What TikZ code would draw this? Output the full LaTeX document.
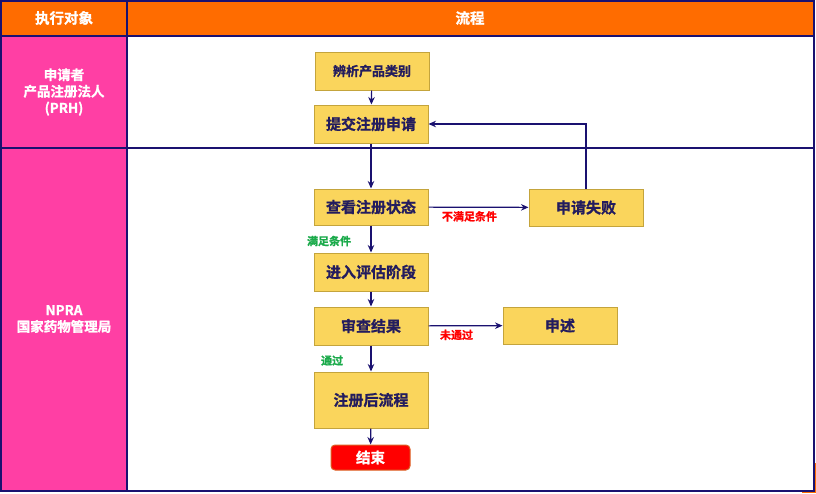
\documentclass[tikz,border=0pt]{standalone}
\usepackage{fontspec}
\setmainfont{Noto Sans CJK SC}[BoldFont={Noto Sans CJK SC Bold}, BoldFeatures={FakeBold=1.2}]
\usetikzlibrary{arrows.meta}
\definecolor{lanepink}{HTML}{FF3FA4}
\definecolor{headorange}{HTML}{FF6C00}
\definecolor{boxyellow}{HTML}{FAD55C}
\definecolor{boxedge}{HTML}{C4A43C}
\definecolor{navy}{HTML}{1A1170}
\definecolor{textnavy}{HTML}{231C5E}
\definecolor{okgreen}{HTML}{1AAA4A}
\tikzset{
  stepbox/.style={draw=boxedge, fill=boxyellow, line width=1pt, minimum width=114pt,
    minimum height=38pt, inner sep=0pt, text=textnavy, font=\fontsize{15}{17}\selectfont\bfseries},
  endbox/.style={draw=boxedge!60!red, fill=red, line width=1pt, rounded corners=4pt,
    minimum width=79pt, minimum height=25pt, inner sep=0pt, text=white, font=\fontsize{14.5}{16}\selectfont\bfseries},
  lanetext/.style={text=white, align=center, font=\fontsize{13.5}{16.5}\selectfont\bfseries},
  flow/.style={draw=navy, line width=1.2pt, -{Stealth[length=7.5pt,width=6.5pt]}},
  failnote/.style={text=red, font=\fontsize{11}{12}\selectfont\bfseries},
  passnote/.style={text=okgreen, font=\fontsize{11}{12}\selectfont\bfseries},
}
\begin{document}
\begin{tikzpicture}[x=1pt, y=-1pt]
\useasboundingbox (0,0) rectangle (816,493);
% table
\fill[headorange] (802,463) rectangle (816,493);
\fill[white] (1,1) rectangle (814,491);
\fill[headorange] (1,1) rectangle (814,36);
\fill[lanepink] (1,36) rectangle (127,491);
\draw[navy, line width=1.2pt] (1,1) rectangle (814,491);
\draw[navy, line width=1.2pt] (1,36) -- (814,36) (1,148) -- (814,148) (127,1) -- (127,491);
\node[lanetext, font=\fontsize{14.5}{16}\selectfont\bfseries] (colwho) at (64,18) {执行对象};
\node[lanetext, font=\fontsize{14.5}{16}\selectfont\bfseries] (colflow) at (470,18) {流程};
\node[lanetext] (prh) at (64,92) {申请者\\产品注册法人\\(PRH)};
\node[lanetext] (npra) at (64,319) {NPRA\\国家药物管理局};
% steps
\node[stepbox, font=\fontsize{13}{15}\selectfont\bfseries] (identify) at (372,71) {辨析产品类别};
\node[stepbox] (submit) at (371,124) {提交注册申请};
\node[stepbox, minimum height=36pt] (status) at (371,207) {查看注册状态};
\node[stepbox, minimum height=37pt] (fail) at (586,207.5) {申请失败};
\node[stepbox] (assess) at (371,272) {进入评估阶段};
\node[stepbox] (review) at (371,326) {审查结果};
\node[stepbox, minimum height=37pt] (appeal) at (560,325.5) {申述};
\node[stepbox, minimum height=56pt] (after) at (371,400) {注册后流程};
\node[endbox] (finish) at (370.5,457.5) {结束};
% connectors
\draw[flow] (identify) -- (submit);
\draw[flow] (submit) -- (status);
\draw[flow] (status) -- node[failnote, below, xshift=-9pt] {不满足条件} (fail);
\draw[flow] (status) -- node[passnote, left, xshift=-16pt, yshift=-2pt] {满足条件} (assess);
\draw[flow] (fail.north) |- (submit.east);
\draw[flow] (assess) -- (review);
\draw[flow] (review) -- node[failnote, below, xshift=-9pt] {未通过} (appeal);
\draw[flow] (review) -- node[passnote, left, xshift=-24pt, yshift=-2pt] {通过} (after);
\draw[flow] (after) -- (finish);
\end{tikzpicture}
\end{document}
